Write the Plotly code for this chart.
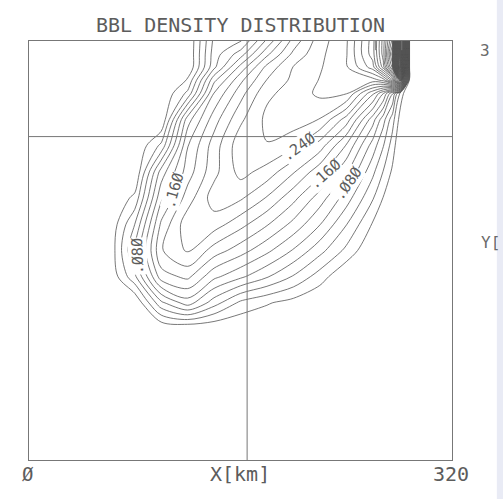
import plotly.graph_objects as go

# ---- grid of the BBL density field (km) ----
x_km = [60, 80, 100, 120, 140, 160, 180, 200, 220, 240, 260, 268, 275, 281, 288, 300]
y_km = [100, 120, 140, 160, 180, 200, 220, 240, 260, 280, 290, 300, 310, 320]

d_y100 = [0, 0, 0, 0, 0, 0, 0, 0, 0, 0, 0, 0, 0, 0, 0, 0]
d_y120 = [0, 0, 0.075, 0.11, 0.069, 0.035, 0.022, 0.012, 0, 0, 0, 0, 0, 0, 0, 0]
d_y140 = [0, 0.055, 0.151, 0.165, 0.125, 0.104, 0.082, 0.058, 0.03, 0, 0, 0, 0, 0, 0, 0]
d_y160 = [0, 0.08, 0.178, 0.203, 0.171, 0.149, 0.125, 0.098, 0.067, 0.035, 0, 0, 0, 0, 0, 0]
d_y180 = [0, 0.06, 0.164, 0.213, 0.21, 0.187, 0.162, 0.134, 0.101, 0.061, 0.018, 0, 0, 0, 0, 0]
d_y200 = [0, 0.025, 0.136, 0.19, 0.23, 0.223, 0.198, 0.166, 0.13, 0.09, 0.042, 0.019, 0, 0, 0, 0]
d_y220 = [0, 0, 0.109, 0.17, 0.214, 0.247, 0.232, 0.202, 0.167, 0.123, 0.065, 0.039, 0.016, 0, 0, 0]
d_y240 = [0, 0, 0.045, 0.159, 0.21, 0.253, 0.259, 0.244, 0.21, 0.158, 0.091, 0.061, 0.03, 0, 0, 0]
d_y260 = [0, 0, 0, 0.131, 0.191, 0.236, 0.265, 0.272, 0.259, 0.211, 0.129, 0.088, 0.048, 0.011, 0, 0]
d_y280 = [0, 0, 0, 0.045, 0.161, 0.212, 0.256, 0.268, 0.2845, 0.282, 0.205, 0.161, 0.102, 0.03, 0, 0]
d_y290 = [0, 0, 0, 0.022, 0.135, 0.195, 0.241, 0.265, 0.281, 0.29, 0.29, 0.305, 0.37, 0.51, 0, 0]
d_y300 = [0, 0, 0, 0, 0.095, 0.167, 0.226, 0.261, 0.278, 0.297, 0.35, 0.43, 0.55, 1.21, 0, 0]
d_y310 = [0, 0, 0, 0, 0.09, 0.13, 0.195, 0.245, 0.275, 0.298, 0.37, 0.45, 0.59, 1.21, 0, 0]
d_y320 = [0, 0, 0, 0, 0.085, 0.098, 0.165, 0.228, 0.271, 0.297, 0.37, 0.45, 0.55, 1.21, 0, 0]

density = [d_y100, d_y120, d_y140, d_y160, d_y180, d_y200, d_y220,
           d_y240, d_y260, d_y280, d_y290, d_y300, d_y310, d_y320]

level_start, level_end, level_step = 0.02, 1.2, 0.02

# contour labels (text, x km, y km, angle)
label_text = [".24Ø", ".16Ø", ".Ø8Ø", ".16Ø", ".Ø8Ø"]
label_x = [204, 224, 241, 110, 82]
label_y = [239, 218.5, 211, 206, 156]
label_angle = [-36, -42, -55, -74, -92]

axis_range = [0, 320]
section_x = 165      # vertical section line (km)
section_y = 247      # horizontal section line (km)
source_box_x = [262, 282]
source_box_y = [313, 320]

line_col = "#555555"
frame_col = "#777777"
txt_col = "#5c5c5c"
mono = "DejaVu Sans Mono, monospace"

fig = go.Figure()
fig.add_trace(go.Contour(
    x=x_km, y=y_km, z=density,
    contours=dict(start=level_start, end=level_end, size=level_step,
                  coloring="lines", showlabels=False),
    colorscale=[[0, line_col], [1, line_col]],
    line=dict(width=0.8, smoothing=0.9),
    showscale=False, hoverinfo="skip",
))

shapes = [
    dict(type="line", xref="x", yref="y", x0=section_x, x1=section_x,
         y0=axis_range[0], y1=axis_range[1], line=dict(color=frame_col, width=1)),
    dict(type="line", xref="x", yref="y", x0=axis_range[0], x1=axis_range[1],
         y0=section_y, y1=section_y, line=dict(color=frame_col, width=1)),
]
for sx in source_box_x:
    shapes.append(dict(type="line", xref="x", yref="y", x0=sx, x1=sx,
                       y0=source_box_y[0], y1=source_box_y[1],
                       line=dict(color=frame_col, width=1)))
# pale scanner strip at the right edge
shapes.append(dict(type="rect", xref="paper", yref="paper", x0=1.106, x1=1.14,
                   y0=-0.1, y1=1.12, line=dict(width=0),
                   fillcolor="#e9ebf5", layer="below"))

annotations = []
for t, lx, ly, ang in zip(label_text, label_x, label_y, label_angle):
    annotations.append(dict(text=t, x=lx, y=ly, xref="x", yref="y",
                            showarrow=False, textangle=ang,
                            font=dict(family=mono, size=15, color=txt_col),
                            bgcolor="white", borderpad=0))

def paper_text(t, x, y, size, color=txt_col):
    return dict(text=t, x=x, y=y, xref="paper", yref="paper", showarrow=False,
                xanchor="center", yanchor="middle",
                font=dict(family=mono, size=size, color=color))

annotations += [
    paper_text("BBL DENSITY DISTRIBUTION", 0.499, 1.039, 20),
    paper_text("Ø", -0.002, -0.034, 19),
    paper_text("X[km]", 0.499, -0.034, 20),
    paper_text("320", 0.998, -0.034, 20),
    paper_text("3", 1.078, 0.978, 16, "#6a6a6a"),
    paper_text("Y[", 1.09, 0.518, 16, "#6a6a6a"),
]

fig.update_layout(
    width=503, height=499,
    margin=dict(l=29, r=51, t=41, b=39),
    paper_bgcolor="white", plot_bgcolor="white",
    showlegend=False,
    shapes=shapes, annotations=annotations,
)
ax = dict(range=axis_range, showgrid=False, zeroline=False, showticklabels=False,
          ticks="", showline=True, mirror=True, linecolor=frame_col, linewidth=1)
fig.update_xaxes(**ax)
fig.update_yaxes(**ax)

fig.write_html("out.html", config={"displayModeBar": False},
               post_script="document.body.style.margin='0';document.body.style.overflow='hidden';")
